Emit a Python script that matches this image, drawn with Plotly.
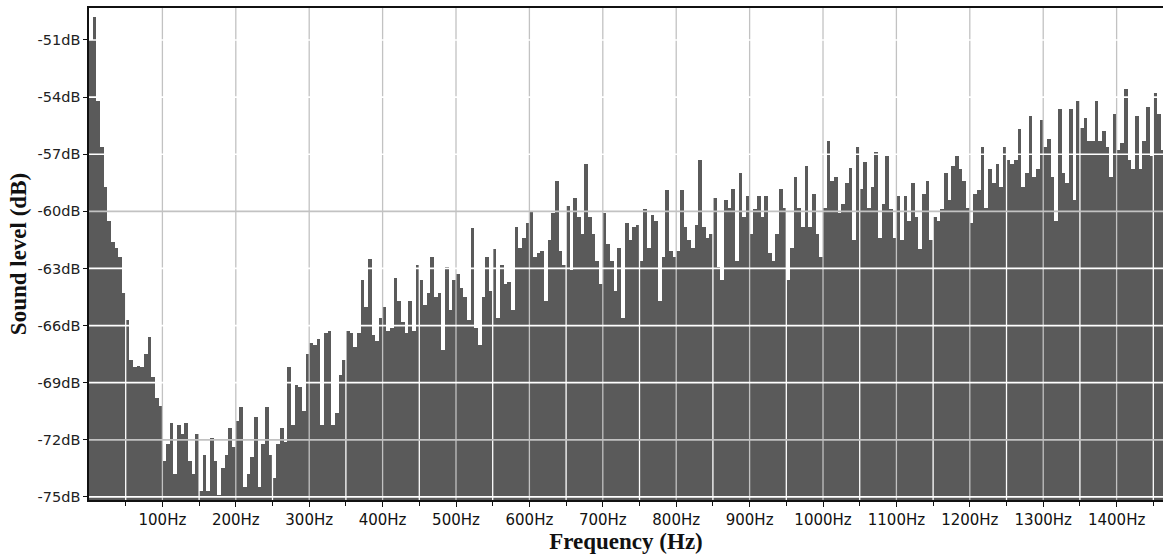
import plotly.graph_objects as go

# ---- data: spectrum level (dB) per 5 Hz bin ----
BIN_HZ = 5
level_0_360 = [
    -51.0, -49.8, -54.2, -56.6, -58.7, -60.5, -61.6, -61.9, -62.4, -64.3,
    -65.7, -67.8, -68.2, -68.1, -68.2, -67.5, -66.6, -68.7, -69.8, -70.2,
    -73.1, -72.2, -71.1, -73.8, -71.2, -71.7, -71.1, -73.1, -73.8, -71.7,
    -74.7, -72.8, -74.7, -71.9, -73.1, -74.9, -73.5, -72.8, -71.4, -72.4,
    -71.0, -70.3, -74.5, -73.8, -72.9, -70.8, -74.5, -72.2, -70.3, -72.8,
    -74.0, -72.2, -71.4, -72.1, -68.2, -71.2, -69.1, -69.2, -70.5, -67.5,
    -66.9, -67.0, -66.7, -71.2, -66.4, -66.3, -71.2, -70.6, -68.6, -67.8,
    -66.3, -66.4, -67.1,
]
level_365_735 = [
    -66.4, -63.6, -65.0, -62.5, -66.5, -66.8, -65.6, -65.0, -66.3, -66.1,
    -63.5, -64.7, -65.8, -66.4, -64.7, -66.3, -62.8, -63.6, -64.9, -64.3,
    -62.4, -64.5, -64.3, -67.3, -62.9, -65.2, -63.6, -63.3, -64.0, -64.5,
    -65.7, -60.9, -66.1, -67.0, -64.5, -62.4, -64.2, -62.0, -65.6, -62.8,
    -63.8, -63.7, -65.2, -60.8, -61.9, -61.4, -60.6, -60.0, -62.4, -62.2,
    -62.1, -64.7, -61.5, -60.1, -58.4, -62.1, -62.8, -59.7, -63.1, -59.3,
    -60.3, -61.2, -57.5, -60.3, -61.2, -62.6, -63.8, -60.1, -61.7, -62.6,
    -64.2, -61.9, -65.6, -60.6, -61.5,
]
level_740_1100 = [
    -60.8, -60.7, -62.6, -59.9, -61.9, -60.2, -60.5, -64.7, -62.4, -58.9,
    -62.1, -62.4, -62.1, -58.9, -60.8, -61.5, -61.9, -60.7, -57.3, -60.8,
    -61.4, -61.2, -59.3, -62.9, -63.6, -59.4, -59.8, -58.8, -62.6, -58.0,
    -60.3, -59.2, -61.2, -59.9, -59.2, -60.3, -59.2, -62.2, -62.6, -61.2,
    -58.8, -59.8, -63.6, -61.9, -58.2, -59.8, -60.8, -57.6, -60.8, -59.1,
    -61.2, -62.4, -59.8, -56.3, -58.4, -58.2, -60.1, -59.6, -58.5, -57.7,
    -61.5, -56.6, -58.8, -57.4, -59.8, -58.7, -56.9, -61.4, -59.6, -57.1,
    -59.9, -61.4, -59.2,
]
level_1105_1460 = [
    -61.5, -59.2, -60.5, -58.5, -60.3, -62.0, -59.1, -58.4, -61.5, -60.3,
    -60.5, -59.9, -58.0, -59.4, -57.6, -57.1, -57.8, -58.4, -59.8, -60.6,
    -59.1, -58.9, -56.6, -59.8, -57.8, -58.5, -57.5, -58.7, -56.6, -57.3,
    -57.5, -57.3, -55.7, -58.7, -58.0, -55.0, -58.2, -57.8, -55.2, -56.6,
    -56.2, -58.2, -60.5, -54.6, -58.0, -58.5, -54.6, -59.4, -54.2, -55.6,
    -55.1, -56.3, -56.3, -54.2, -56.3, -55.8, -56.6, -58.2, -54.9, -56.8,
    -56.4, -53.6, -57.3, -57.8, -55.0, -57.8, -56.3, -54.5, -57.1, -53.8,
    -54.9, -56.8,
]
levels = level_0_360 + level_365_735 + level_740_1100 + level_1105_1460
bin_start_hz = [i * BIN_HZ for i in range(len(levels))]

y_ticks = [-75, -72, -69, -66, -63, -60, -57, -54, -51]
y_tick_text = [f"{v}dB" for v in y_ticks]
x_ticks = [100, 200, 300, 400, 500, 600, 700, 800, 900, 1000, 1100, 1200, 1300, 1400]
x_tick_text = [f"{v}Hz" for v in x_ticks]
x_minor = [50, 150, 250, 350, 450, 550, 650, 750, 850, 950, 1050, 1150, 1250, 1350, 1450]
y_major_grid = [-60, -72]
y_minor_grid = [-75, -69, -66, -63, -57, -54, -51]

FLOOR = -80.0
X_RANGE = [0, 1463.2]
Y_RANGE = [-75.16, -49.32]

fig = go.Figure()
fig.add_trace(go.Bar(
    x=bin_start_hz,
    y=[v - FLOOR for v in levels],
    base=FLOOR,
    width=BIN_HZ,
    offset=0,
    marker=dict(color="#5a5a5a", line=dict(width=0)),
    hovertemplate="%{x} Hz<extra></extra>",
))

shapes = []
for xv in x_minor:
    shapes.append(dict(type="line", xref="x", yref="paper", x0=xv, x1=xv, y0=0, y1=1,
                       line=dict(color="#ffffff", width=1.3), layer="above"))
for xv in x_ticks:
    shapes.append(dict(type="line", xref="x", yref="paper", x0=xv, x1=xv, y0=0, y1=1,
                       line=dict(color="#c2c2c2", width=1.3), layer="above"))
for yv in y_minor_grid:
    shapes.append(dict(type="line", xref="paper", yref="y", x0=0, x1=1, y0=yv, y1=yv,
                       line=dict(color="#ffffff", width=1.7), layer="above"))
for yv in y_major_grid:
    shapes.append(dict(type="line", xref="paper", yref="y", x0=0, x1=1, y0=yv, y1=yv,
                       line=dict(color="#c2c2c2", width=1.7), layer="above"))

fig.update_layout(
    width=1163, height=558,
    margin=dict(l=89, r=0, t=8, b=58),
    paper_bgcolor="white", plot_bgcolor="white",
    bargap=0, showlegend=False,
    shapes=shapes,
    xaxis=dict(
        range=X_RANGE, tickvals=x_ticks, ticktext=x_tick_text,
        showgrid=False, zeroline=False,
        showline=True, linecolor="#111", linewidth=1.5, mirror=True,
        ticks="outside", ticklen=5, tickcolor="#111",
        minor=dict(tickvals=x_minor, ticks="outside", ticklen=4, tickcolor="#111", showgrid=False),
        tickfont=dict(family="DejaVu Sans, Verdana", size=15, color="#111"),
        title=dict(text="Frequency (Hz)", standoff=2,
                   font=dict(family="Liberation Serif, Times New Roman", size=23, color="#111", weight="bold")),
        automargin=False,
        fixedrange=True,
    ),
    yaxis=dict(
        range=Y_RANGE, tickvals=y_ticks, ticktext=y_tick_text,
        showgrid=False, zeroline=False,
        showline=True, linecolor="#111", linewidth=1.5,
        ticks="outside", ticklen=4, tickcolor="#111",
        tickfont=dict(family="DejaVu Sans, Verdana", size=14.5, color="#222"),
        title=dict(text="Sound level (dB)", standoff=4,
                   font=dict(family="Liberation Serif, Times New Roman", size=23, color="#111", weight="bold")),
        automargin=False,
        fixedrange=True,
    ),
)

fig.write_html("out.html")
